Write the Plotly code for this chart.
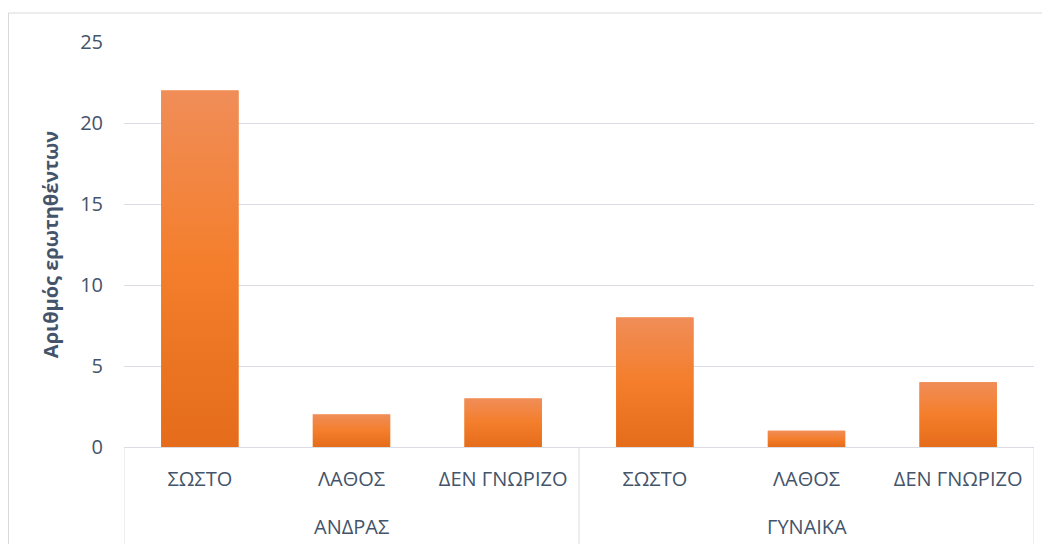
import plotly.graph_objects as go

groups = ["ΑΝΔΡΑΣ", "ΑΝΔΡΑΣ", "ΑΝΔΡΑΣ", "ΓΥΝΑΙΚΑ", "ΓΥΝΑΙΚΑ", "ΓΥΝΑΙΚΑ"]
answers = ["ΣΩΣΤΟ", "ΛΑΘΟΣ", "ΔΕΝ ΓΝΩΡΙΖΟ", "ΣΩΣΤΟ", "ΛΑΘΟΣ", "ΔΕΝ ΓΝΩΡΙΖΟ"]
counts = [22, 2, 3, 8, 1, 4]
y_ticks = [0, 5, 10, 15, 20, 25]

TEXT = "#44546A"
GRID = "#DADDE3"
FONT = "Open Sans"
BAR_W = 0.51
grad = [[0, "#E46C1A"], [0.5, "#F47E2B"], [1, "#F08D58"]]

# the page body has an 8px margin; size the figure to fit inside the window
W, H = 1042, 536
ML, MT, PW, PH = 116, 34, 910, 405

pos = list(range(len(counts)))

fig = go.Figure()
fig.add_trace(go.Bar(
    x=pos, y=counts, width=BAR_W,
    marker=dict(color="#F27D2A", line=dict(width=0)),
    customdata=[[g, a] for g, a in zip(groups, answers)],
    hovertemplate="%{customdata[0]} %{customdata[1]}: %{y}<extra></extra>",
    showlegend=False,
))

# vertical gradient fill for each bar
for i, v in zip(pos, counts):
    fig.add_trace(go.Scatter(
        x=[i - BAR_W / 2, i + BAR_W / 2, i + BAR_W / 2, i - BAR_W / 2, i - BAR_W / 2],
        y=[0, 0, v, v, 0],
        mode="lines", line=dict(width=0),
        fill="toself", fillgradient=dict(type="vertical", colorscale=grad),
        hoverinfo="skip", showlegend=False,
    ))

# group labels and dividers
unique_groups = []
for g in groups:
    if g not in unique_groups:
        unique_groups.append(g)

annotations = []
shapes = []
bounds = []
for g in unique_groups:
    idx = [i for i, gg in enumerate(groups) if gg == g]
    annotations.append(dict(
        x=sum(idx) / len(idx), y=-(526 - 447) / PH, xref="x", yref="paper",
        text=g, showarrow=False, font=dict(size=20, color=TEXT),
        xanchor="center", yanchor="middle",
    ))
    bounds.extend([min(idx) - 0.5, max(idx) + 0.5])
for b in sorted(set(bounds)):
    shapes.append(dict(
        type="line", xref="x", yref="paper", x0=b, x1=b, y0=0, y1=-0.3,
        line=dict(color=GRID, width=1),
    ))

# chart-area border
shapes.append(dict(
    type="rect", xref="paper", yref="paper",
    x0=(8.5 - 124) / PW, x1=1.05, y0=-0.3, y1=(447 - 13) / PH,
    line=dict(color="#D9D9D9", width=1), fillcolor="rgba(0,0,0,0)", layer="below",
))

fig.update_layout(
    width=W, height=H,
    margin=dict(l=ML, r=W - ML - PW, t=MT, b=H - MT - PH, autoexpand=False),
    paper_bgcolor="white", plot_bgcolor="white",
    font=dict(family=FONT, color=TEXT, size=20),
    xaxis=dict(
        range=[-0.5, len(counts) - 0.5], tickvals=pos, ticktext=answers,
        showline=True, linecolor=GRID, linewidth=1, showgrid=False, zeroline=False,
        ticks="", ticklabelstandoff=14, tickfont=dict(size=20, color=TEXT),
        automargin=False, fixedrange=True,
    ),
    yaxis=dict(
        range=[0, 25], tickvals=y_ticks, showgrid=True, gridcolor=GRID,
        gridwidth=1, zeroline=False, showline=False, ticks="",
        ticklabelstandoff=20, tickfont=dict(size=20, color=TEXT),
        title=dict(text="<b>Αριθμός ερωτηθέντων</b>", font=dict(size=20, color=TEXT), standoff=16),
        automargin=False, fixedrange=True,
    ),
    annotations=annotations,
    shapes=shapes,
)

fig.write_html("out.html")
